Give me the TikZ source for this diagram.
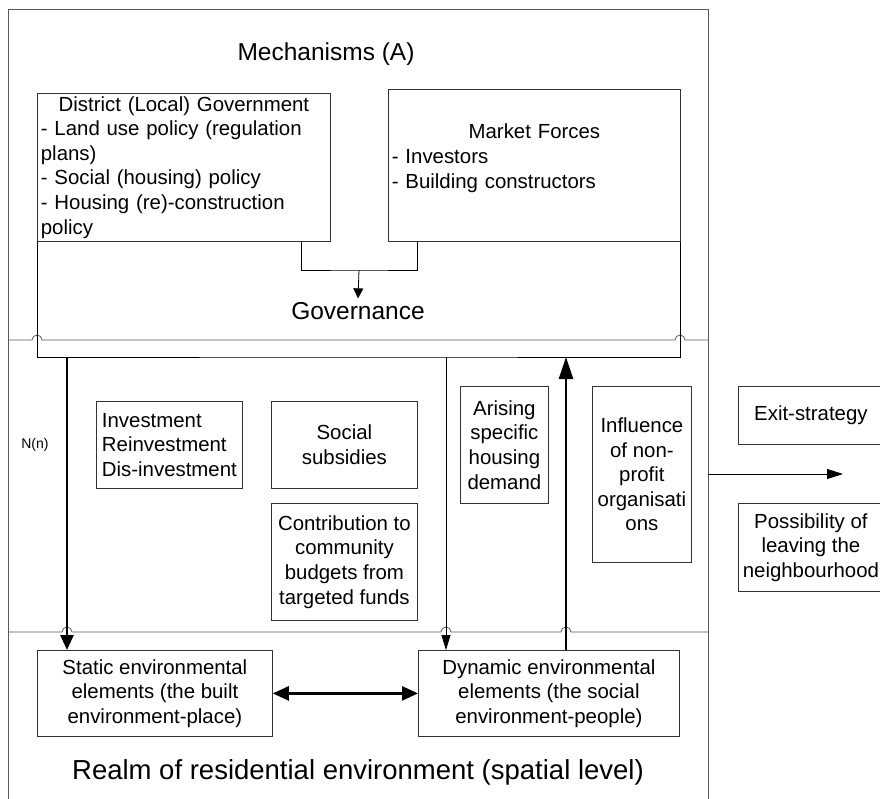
\documentclass[tikz,border=0pt]{standalone}
\usepackage{fontspec}
\setmainfont{Liberation Sans}
\usetikzlibrary{arrows.meta,calc}

\begin{document}
\begin{tikzpicture}[x=1pt,y=-1pt,
  divider/.style={draw=black!65,line width=0.8pt},
  line/.style={draw=black,line width=0.8pt},
  box/.style={draw=black!80,line width=0.8pt,anchor=north west,inner sep=3pt,
    font=\fontsize{20.4}{24.6}\selectfont},
  title/.style={anchor=base,font=\fontsize{24.5}{29}\selectfont},
  link/.style={line,-{Triangle[length=15pt,width=9pt]}},
  bigarrow/.style={draw=black,line width=2.6pt,-{Triangle[length=18pt,width=13pt]}}]
\useasboundingbox (0,0) rectangle (880,798);

% frame and dividers (hops where lines cross)
\draw[divider] (8,800) -- (8,9) -- (708,9) -- (708,800);
\draw[divider] (8,340) -- (32,340) arc[start angle=180,end angle=360,radius=5]
  -- (675,340) arc[start angle=180,end angle=360,radius=5] -- (708,340);
\draw[divider] (8,632) -- (62,632) arc[start angle=180,end angle=360,radius=5]
  -- (441,632) arc[start angle=180,end angle=360,radius=5]
  -- (561,632) arc[start angle=180,end angle=360,radius=5] -- (708,632);

% mechanisms
\node[title] (mech) at (326,60) {Mechanisms (A)};
\node[box,minimum width=293pt,minimum height=148pt,text width=286pt,align=left] (district) at (37,93)
  {\makebox[286pt]{District (Local) Government}\\- Land use policy (regulation\\plans)\\- Social (housing) policy\\- Housing (re)-construction\\policy};
\node[box,minimum width=292pt,minimum height=152pt,text width=285pt,align=left] (market) at (388,89)
  {\makebox[285pt]{Market Forces}\\- Investors\\- Building constructors\\[-6pt]\mbox{}};
\node[title] (gov) at (358,319) {Governance};

\coordinate (govin) at (359,270);
\coordinate (govbase) at (358,357);
\draw[line] ($(district.south east)+(-29,0)$) |- (govin) -| ($(market.south west)+(29,0)$);
\draw[line,-{Triangle[length=10pt,width=10pt]}] (govin) -- (gov.north);
\draw[line] (district.south west) |- (govbase) -| (market.south east);

% instruments
\node[font=\fontsize{14}{16}\selectfont] (nn) at (35,445) {N(n)};
\node[box,minimum width=146pt,minimum height=87pt,align=left] (invest) at (96,401) {Investment\\Reinvestment\\Dis-investment};
\node[box,minimum width=146pt,minimum height=87pt,align=center] (subsidy) at (271,401) {Social\\subsidies};
\node[box,minimum width=146pt,minimum height=117pt,align=center] (contrib) at (271,503) {Contribution to\\community\\budgets from\\targeted funds};
\node[box,minimum width=88pt,minimum height=117pt,align=center] (demand) at (460,386) {Arising\\specific\\housing\\demand};
\node[box,minimum width=99pt,minimum height=176pt,align=center] (nonprofit) at (592,386) {Influence\\of non-\\profit\\organisati\\ons};

% exit
\node[box,minimum width=145pt,minimum height=58pt,align=center] (exit) at (738,386) {Exit-strategy};
\node[box,minimum width=145pt,minimum height=88pt,align=center] (leave) at (738,503) {Possibility of\\leaving the\\neighbourhood};
\coordinate (exitfrom) at (708,474);
\coordinate (exitto) at (843,474);
\draw[line,-{Triangle[length=16pt,width=10pt]}] (exitfrom) -- (exitto);

% realm
\node[box,minimum width=235pt,minimum height=86pt,align=center] (static) at (37,650) {Static environmental\\elements (the built\\environment-place)};
\node[box,minimum width=261pt,minimum height=86pt,align=center] (dynamic) at (418,650) {Dynamic environmental\\elements (the social\\environment-people)};
\node[title,font=\fontsize{27.5}{31}\selectfont] (realm) at (358,779) {Realm of residential environment (spatial level)};
\draw[bigarrow,{Triangle[length=16pt,width=14pt]}-{Triangle[length=16pt,width=14pt]}] (static) -- (dynamic);

% flows between the levels
\coordinate (nflow) at (67,357);
\coordinate (sflow) at (446,357);
\coordinate (dflow) at (566,357);
\draw[bigarrow,-{Triangle[length=15pt,width=13pt]}] (nflow) -- (nflow |- static.north);
\draw[link] (sflow) -- (sflow |- dynamic.north);
\draw[bigarrow,-{Triangle[length=22pt,width=14pt]}] (dflow |- dynamic.north) -- (dflow);
\end{tikzpicture}
\end{document}
